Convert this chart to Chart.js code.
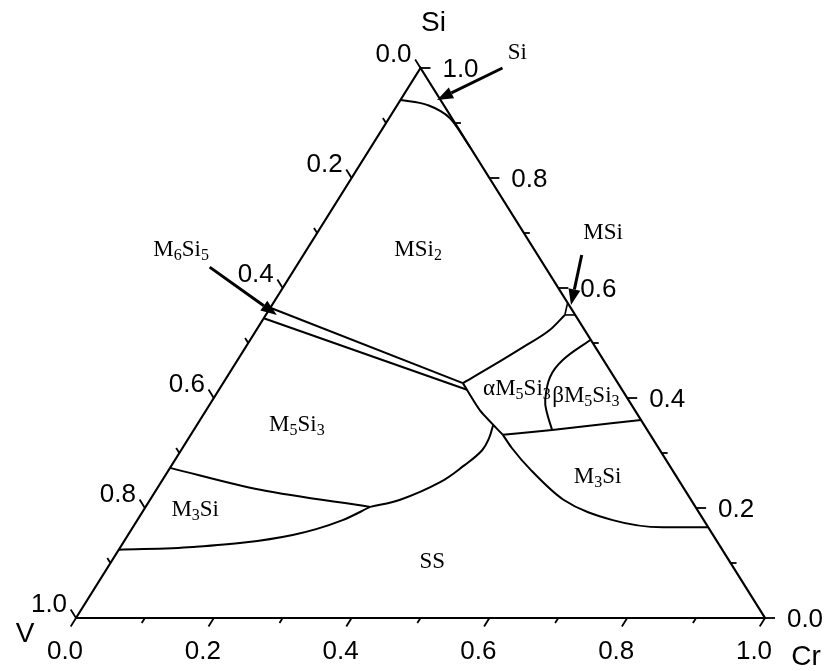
<!DOCTYPE html>
<html>
<head>
<meta charset="utf-8">
<script src="https://cdn.jsdelivr.net/npm/chart.js@4"></script>
<style>
html,body{margin:0;padding:0;background:#fff;}
canvas{display:block;}
</style>
</head>
<body>
<canvas id="canvas" width="825" height="671"></canvas>
<script>
// every point is a composition [Cr, Si] (mole fraction), V = 1 - Cr - Si
var outline = [[0,0],[1,0],[0,1],[0,0]];

var siCap = [[0,0.942],[0.043,0.933],[0.088,0.909],[0.145,0.855]];
var bandTop = [[0,0.564],[0.348,0.427]];
var bandBottom = [[0,0.545],[0.360,0.415]];
var alphaTop = [[0.348,0.427],[0.373,0.456],[0.403,0.493],[0.426,0.524],[0.434,0.551]];
var msiA = [[0.434,0.551],[0.427,0.573]];
var msiB = [[0.434,0.551],[0.449,0.551]];
var alphaLeft = [[0.348,0.427],[0.397,0.378],[0.453,0.333]];
var alphaBeta = [[0.494,0.506],[0.472,0.469],[0.469,0.438],[0.483,0.396],[0.497,0.373],[0.520,0.342]];
var betaBottom = [[0.453,0.333],[0.520,0.342],[0.640,0.360]];
var m3siRight = [[0.453,0.333],[0.477,0.310],[0.527,0.268],[0.600,0.215],[0.690,0.178],[0.769,0.165],[0.835,0.165]];
var m3siLeftTop = [[0,0.273],[0.151,0.233],[0.326,0.202]];
var ssLeftLow = [[0,0.124],[0.105,0.129],[0.239,0.151],[0.298,0.178],[0.326,0.202]];
var ssLeftUp = [[0.326,0.202],[0.363,0.215],[0.405,0.247],[0.425,0.278],[0.437,0.305],[0.436,0.327],[0.430,0.351]];

// arrows: [from, to]
var siArrow = [[0.119,1.0],[0.053,0.942]];
var m6si5Arrow = [[-0.125,0.638],[0.016,0.551]];
var msiArrow = [[0.404,0.660],[0.434,0.569]];

// phase labels (digits are written as subscripts)
var regionNames = ['MSi2','M6Si5','αM5Si3','βM5Si3','M5Si3','M3Si','M3Si','SS','Si','MSi'];
var regionPos = [[0.162,0.669],[-0.182,0.669],[0.432,0.416],[0.538,0.404],[0.145,0.351],[0.075,0.196],[0.629,0.256],[0.466,0.102],[0.127,1.027],[0.415,0.700]];

// axis ticks
var tickVals = [0,0.1,0.2,0.3,0.4,0.5,0.6,0.7,0.8,0.9,1.0];
var tickLabels = ['0.0','0.2','0.4','0.6','0.8','1.0'];
var labelVals = [0,0.2,0.4,0.6,0.8,1.0];

function toXY(arr){
  return arr.map(function(p){ return {x: p[0] + p[1]/2, y: p[1]}; });
}

function line(arr, w, t, mono){
  var ds = {data: toXY(arr), showLine: true, borderColor: '#000', borderWidth: w,
    tension: t, pointRadius: 0, fill: false, clip: false};
  if(mono) ds.cubicInterpolationMode = 'monotone';
  return ds;
}

var datasets = [
  line(outline, 2.2, 0),
  line(siCap, 2, 0.4, true),
  line(bandTop, 2, 0),
  line(bandBottom, 2, 0),
  line(alphaTop, 2, 0.4, true),
  line(msiA, 1.6, 0),
  line(msiB, 1.6, 0),
  line(alphaLeft, 2, 0.2),
  line(alphaBeta, 2, 0.4),
  line(betaBottom, 2, 0.3, true),
  line(m3siRight, 2, 0.4, true),
  line(m3siLeftTop, 2, 0.3, true),
  line(ssLeftLow, 2, 0.4, true),
  line(ssLeftUp, 2, 0.4)
];

function pix(chart, p){
  return [chart.scales.x.getPixelForValue(p[0] + p[1]/2), chart.scales.y.getPixelForValue(p[1])];
}

function unit(a, b){
  var dx = b[0]-a[0], dy = b[1]-a[1], l = Math.sqrt(dx*dx+dy*dy);
  return [dx/l, dy/l];
}

function subText(ctx, txt, x, y, size){
  var big = size + 'px "Liberation Serif", "Times New Roman", serif';
  var small = Math.round(size*0.7) + 'px "Liberation Serif", "Times New Roman", serif';
  var w = 0, i, ch;
  for(i=0;i<txt.length;i++){
    ch = txt[i];
    ctx.font = /[0-9]/.test(ch) ? small : big;
    w += ctx.measureText(ch).width;
  }
  var cx = x - w/2;
  ctx.textAlign = 'left';
  ctx.textBaseline = 'middle';
  for(i=0;i<txt.length;i++){
    ch = txt[i];
    var sub = /[0-9]/.test(ch);
    ctx.font = sub ? small : big;
    ctx.fillText(ch, cx, sub ? y + 6 : y);
    cx += ctx.measureText(ch).width;
  }
}

function arrow(ctx, a, b){
  var u = unit(a, b), hl = 16, hw = 6;
  var base = [b[0]-u[0]*hl, b[1]-u[1]*hl];
  ctx.beginPath();
  ctx.lineWidth = 3;
  ctx.moveTo(a[0], a[1]);
  ctx.lineTo(base[0], base[1]);
  ctx.stroke();
  ctx.beginPath();
  ctx.moveTo(b[0], b[1]);
  ctx.lineTo(base[0]-u[1]*hw, base[1]+u[0]*hw);
  ctx.lineTo(base[0]+u[1]*hw, base[1]-u[0]*hw);
  ctx.closePath();
  ctx.fill();
}

var ternaryDecor = {
  id: 'ternaryDecor',
  afterDatasetsDraw: function(chart){
    var ctx = chart.ctx;
    ctx.save();
    ctx.strokeStyle = '#000';
    ctx.fillStyle = '#000';
    var pV = pix(chart, [0,0]), pCr = pix(chart, [1,0]), pSi = pix(chart, [0,1]);
    var dBottom = unit(pSi, pV);       // down-left
    var dLeft = unit(pCr, pSi);        // up-left
    var dRight = [1, 0];
    ctx.lineWidth = 1.8;
    tickVals.forEach(function(v, i){
      var len = i % 2 === 0 ? 10 : 6;
      var pts = [
        [pix(chart, [v, 0]), dBottom],
        [pix(chart, [0, 1 - v]), dLeft],
        [pix(chart, [1 - v, v]), dRight]
      ];
      pts.forEach(function(t){
        ctx.beginPath();
        ctx.moveTo(t[0][0], t[0][1]);
        ctx.lineTo(t[0][0] + t[1][0]*len, t[0][1] + t[1][1]*len);
        ctx.stroke();
      });
    });

    ctx.font = '26px "Liberation Sans", Arial, sans-serif';
    ctx.textAlign = 'center';
    ctx.textBaseline = 'middle';
    labelVals.forEach(function(v, i){
      var b = pix(chart, [v, 0]);
      ctx.fillText(tickLabels[i], b[0] - 11, b[1] + 34);
      var l = pix(chart, [0, 1 - v]);
      ctx.fillText(tickLabels[i], l[0] - 27, l[1] - 13);
      var r = pix(chart, [1 - v, v]);
      ctx.fillText(tickLabels[i], r[0] + 40, r[1] + 2);
    });

    ctx.font = '28px "Liberation Sans", Arial, sans-serif';
    ctx.fillText('Si', pSi[0] + 13, pSi[1] - 45);
    ctx.fillText('V', pV[0] - 51, pV[1] + 16);
    ctx.fillText('Cr', pCr[0] + 41, pCr[1] + 39);

    [siArrow, m6si5Arrow, msiArrow].forEach(function(a){
      arrow(ctx, pix(chart, a[0]), pix(chart, a[1]));
    });

    regionNames.forEach(function(n, i){
      var p = pix(chart, regionPos[i]);
      subText(ctx, n, p[0], p[1], 23);
    });
    ctx.restore();
  }
};

var ctx = document.getElementById('canvas').getContext('2d');
var myChart = new Chart(ctx, {
  type: 'scatter',
  data: {datasets: datasets},
  options: {
    responsive: false,
    animation: false,
    layout: {padding: {left: 76, right: 60, top: 68, bottom: 53}},
    scales: {
      x: {type: 'linear', min: 0, max: 1, display: false},
      y: {type: 'linear', min: 0, max: 1, display: false}
    },
    plugins: {legend: {display: false}, tooltip: {enabled: false}},
    elements: {point: {radius: 0}}
  },
  plugins: [ternaryDecor]
});
</script>
</body>
</html>
